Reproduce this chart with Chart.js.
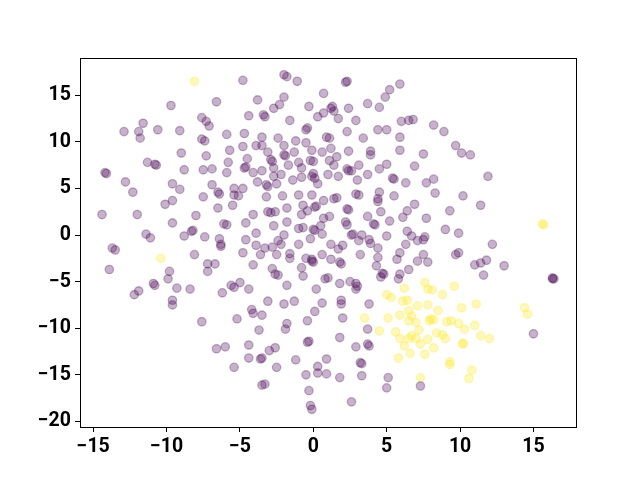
<!DOCTYPE html>
<html>
<head>
<meta charset="utf-8">
<script src="https://cdn.jsdelivr.net/npm/chart.js@4/dist/chart.umd.min.js"></script>
<style>
  html, body { margin: 0; padding: 0; background: #fff; }
  #wrap { width: 640px; height: 480px; }
</style>
</head>
<body>
<div id="wrap"><canvas id="scatter"></canvas></div>
<script>
// cluster 0 (purple)
var purplePoints = [
  [-9.7,13.9],[-11.6,12.0],[-12.9,11.1],[-11.9,11.1],[-11.8,10.4],[-10.6,11.3],[-9.1,11.2],[-9.0,8.8],
  [-11.3,7.8],[-10.8,7.6],[-10.7,7.5],[-14.1,6.6],[-14.2,6.7],[-8.8,7.0],[-12.8,5.7],[-9.6,5.5],
  [-7.6,12.6],[-7.3,12.2],[-7.6,10.3],[-7.4,10.1],[-7.3,8.5],[-7.5,7.0],
  [-2.0,17.2],[-1.8,17.0],[-4.8,16.6],[-1.1,16.5],[-6.6,14.3],[-3.8,14.5],[-2.0,14.8],[-2.3,14.0],
  [-2.7,13.6],[-0.3,13.8],[0.7,15.2],[-7.1,11.7],[-4.4,12.8],[-3.3,12.7],[-3.4,12.9],[-1.6,12.3],
  [0.3,12.7],[0.7,13.1],[-0.5,11.3],[-0.4,11.5],[-5.9,10.8],[-4.7,10.9],[-3.5,10.5],[-2.4,10.4],
  [-1.2,10.1],[-0.5,9.9],[0.9,10.5],[1.1,10.4],[-5.7,9.1],[-4.8,9.5],[-3.9,9.6],[-3.5,9.6],
  [-2.0,9.6],[-0.1,9.1],[0.6,8.9],[-3.1,8.9],[-2.0,8.6],[-1.9,8.5],[-1.3,8.9],[-4.5,8.2],
  [-2.9,8.1],[-2.8,7.9],[-5.8,7.8],[-1.0,7.8],[-0.2,8.0],[0.0,7.9],[-2.7,7.2],[-1.7,7.5],
  [-0.8,7.2],[-6.9,7.1],[-4.7,7.2],[-4.6,7.3],[-5.9,6.7],[-4.1,6.7],[-3.5,6.9],[-2.2,6.5],
  [0.0,6.6],[-2.7,6.3],[-0.8,6.2],[-1.4,5.9],[-3.8,5.7],[-0.1,6.3],[0.1,6.1],[1.0,6.5],
  [2.3,16.5],[2.2,16.4],[5.9,16.2],[5.2,15.6],[4.9,14.8],[3.7,14.1],[4.5,13.7],[1.3,13.8],
  [1.2,13.6],[1.4,13.3],[2.4,13.6],[1.7,12.5],[2.9,12.3],[6.0,12.2],[6.5,12.3],[6.8,12.4],
  [8.2,11.8],[8.9,11.1],[2.3,11.1],[4.4,11.3],[5.0,11.3],[3.4,10.4],[5.9,10.5],[1.2,9.3],
  [2.4,9.0],[3.9,9.0],[3.9,8.6],[5.9,9.1],[7.5,8.7],[1.6,8.4],[1.1,8.0],[1.4,7.5],
  [3.1,7.5],[5.0,7.6],[6.9,7.4],[2.3,7.1],[2.4,6.9],[2.6,6.9],[4.5,7.1],[1.7,6.3],
  [3.0,5.9],[3.7,6.5],[5.4,6.1],[5.5,6.0],[6.3,5.6],[7.7,5.6],[8.2,6.0],[9.7,9.6],
  [10.1,8.8],[10.7,8.6],[11.9,6.3],
  [-12.3,4.6],[-9.1,4.9],[-7.5,4.1],[-9.6,3.7],[-10.1,3.3],[-14.4,2.2],[-12.0,2.2],[-8.0,2.1],
  [-9.6,1.3],[-11.4,0.1],[-11.1,-0.3],[-8.8,-0.1],[-8.3,0.4],[-8.2,0.5],[-13.7,-1.4],[-13.5,-1.6],
  [-8.1,-2.1],[-13.9,-3.7],[-9.8,-3.9],[-9.9,-4.7],[-10.9,-5.2],[-10.8,-5.4],[-11.9,-6.0],[-12.2,-6.4],
  [-9.3,-5.7],[-8.4,-5.8],[-9.6,-7.0],[-9.6,-7.5],
  [-6.9,5.4],[-6.5,4.6],[-6.4,4.4],[-5.4,5.0],[-4.8,5.0],[-5.4,4.3],[-5.1,4.2],[-3.2,5.4],
  [-3.1,5.2],[-2.5,5.5],[0.3,5.5],[-3.2,4.1],[-2.1,4.2],[-1.0,4.3],[-0.1,4.3],[0.7,3.7],
  [-6.5,2.9],[-5.5,3.2],[-1.8,2.9],[-0.7,3.2],[0.1,3.0],[0.2,3.1],[-0.4,2.6],[-0.8,2.2],
  [-4.1,2.2],[-3.1,2.5],[-2.9,2.4],[-2.6,2.5],[0.7,1.8],[1.1,2.0],[-6.1,1.2],[-5.9,1.1],
  [-4.6,1.3],[-2.7,1.0],[-1.8,1.4],[-1.0,0.7],[-0.7,0.8],[0.1,0.5],[0.0,0.6],[0.5,1.0],
  [0.6,0.1],[-3.9,0.2],[-2.0,0.0],[-6.4,-0.4],[-6.3,-1.0],[-6.3,-1.2],[-4.6,-0.5],[-2.4,-0.6],
  [-2.2,-1.0],[-3.9,-1.1],[-3.3,-1.4],[-2.8,-1.3],[-1.0,-1.0],[-0.2,-0.4],[-7.4,-0.2],[-4.8,-1.9],
  [-3.6,-2.1],[-2.5,-2.1],[-1.6,-2.0],[-1.6,-2.5],[-0.5,-2.5],[-0.1,-2.6],[-0.1,-2.8],[0.6,-2.1],
  [-7.2,-3.1],[-7.2,-3.9],[-6.7,-3.1],[-4.1,-3.2],[-2.8,-3.6],[-2.6,-4.2],[-2.4,-4.3],[-0.8,-3.5],
  [-0.7,-4.4],[0.0,-2.9],[0.8,-4.7],[1.0,-4.6],[-5.6,-5.4],[-5.4,-5.6],[-5.0,-5.1],[-4.4,-5.8],
  [-1.8,-5.4],[-6.2,-6.2],[0.2,-5.8],[-3.1,-7.1],[-2.0,-7.4],[-1.3,-7.1],[0.6,-7.3],
  [4.5,4.6],[8.3,4.5],[1.4,3.9],[1.6,4.0],[2.9,4.4],[3.1,4.3],[4.4,3.9],[4.4,3.6],
  [5.5,4.2],[6.9,3.3],[9.3,2.6],[2.3,2.8],[2.4,2.7],[3.7,2.0],[4.6,2.5],[6.4,2.6],
  [6.1,1.9],[7.7,1.8],[2.2,1.4],[2.3,1.1],[4.1,1.2],[4.2,1.1],[5.2,1.5],[9.0,0.6],
  [6.4,0.4],[6.7,-0.1],[2.6,0.0],[2.7,0.1],[3.3,0.0],[3.1,-0.6],[3.8,-0.5],[3.9,-0.9],
  [5.0,-0.1],[7.6,-0.2],[7.5,-0.5],[7.1,-0.6],[6.3,-1.0],[1.2,-1.0],[2.0,-1.1],[1.7,-1.5],
  [4.4,-1.4],[3.2,-2.1],[4.4,-2.4],[5.9,-1.9],[7.5,-2.1],[1.2,-2.6],[1.8,-2.9],[1.9,-3.1],
  [5.7,-2.6],[7.1,-2.8],[7.8,-2.9],[4.3,-3.3],[4.7,-4.1],[4.8,-4.2],[4.6,-4.5],[5.9,-4.2],
  [6.5,-3.7],[5.8,-4.7],[1.8,-5.2],[2.5,-5.0],[2.9,-5.2],[3.0,-5.5],[2.9,-5.8],[3.8,-7.4],
  [1.9,-7.0],[1.9,-7.4],
  [10.2,4.2],[11.4,3.2],[9.9,0.2],[12.2,-1.0],[9.7,-2.1],[9.9,-1.9],[11.0,-3.2],[11.4,-3.0],
  [11.8,-2.7],[13.0,-3.3],[11.6,-4.3],[16.3,-4.7],[16.3,-4.6],[16.4,-4.7],
  [-7.6,-9.3],[-4.2,-8.0],[-4.1,-8.4],[-3.5,-8.6],[0.1,-8.2],[-5.2,-9.0],[-1.8,-9.5],[-1.9,-10.1],
  [-0.4,-9.2],[-3.7,-10.2],[-0.4,-11.5],[-0.3,-11.4],[-6.6,-12.2],[-6.0,-12.0],[-4.4,-11.8],[-4.4,-13.2],
  [-3.6,-13.3],[-3.5,-13.2],[-3.0,-12.4],[-2.6,-12.1],[-1.2,-13.4],[0.9,-13.3],[-5.4,-14.2],[-2.5,-14.2],
  [0.3,-14.1],[0.3,-14.8],[-0.5,-15.0],[0.9,-14.9],[-3.5,-16.1],[-3.3,-16.0],[-0.3,-16.7],[-0.2,-18.3],
  [-0.1,-18.7],
  [2.0,-8.9],[3.7,-10.1],[1.8,-11.0],[2.9,-12.0],[3.7,-11.7],[3.8,-11.9],[3.2,-13.7],[3.3,-13.8],
  [1.8,-15.3],[3.3,-15.1],[5.1,-15.3],[5.0,-16.4],[7.3,-16.2],[2.6,-17.9],[15.0,-10.6]
];

// cluster 1 (yellow)
var yellowPoints = [
  [-8.1,16.5],[-10.4,-2.5],[15.6,1.2],[15.7,1.1],
  [7.6,-5.1],[7.8,-5.8],[8.1,-5.9],[8.8,-6.4],[6.2,-5.7],[5.0,-6.4],[5.3,-6.7],[6.1,-7.1],
  [6.4,-7.0],[7.8,-7.5],[7.1,-7.6],[9.6,-5.5],[11.1,-7.4],[10.1,-7.8],[14.4,-7.8],[14.6,-8.5],
  [3.5,-8.9],[5.1,-8.9],[5.9,-8.6],[6.5,-8.1],[6.7,-8.7],[8.5,-8.1],[6.5,-9.2],[7.0,-9.4],
  [8.0,-9.0],[7.9,-9.2],[8.2,-9.1],[9.1,-9.3],[9.4,-9.2],[4.5,-10.3],[5.6,-10.4],[7.2,-10.2],
  [5.9,-11.1],[6.5,-11.1],[6.7,-10.8],[7.0,-11.1],[8.4,-10.5],[8.8,-10.7],[9.0,-11.1],[7.8,-11.2],
  [6.2,-11.9],[7.3,-11.7],[8.2,-12.1],[6.6,-12.7],[7.6,-12.8],[5.8,-13.2],[9.3,-13.6],[9.3,-13.9],
  [7.3,-15.3],[9.9,-9.5],[10.3,-10.1],[11.0,-9.7],[11.4,-10.8],[12.0,-11.1],[10.2,-11.7],[10.2,-11.6],
  [10.8,-14.5],[10.6,-15.4]
];

var xTicks = [-15, -10, -5, 0, 5, 10, 15];
var yTicks = [-20, -15, -10, -5, 0, 5, 10, 15];
var xRange = [-15.9, 17.9];
var yRange = [-20.6, 19.0];

function toXY(arr) {
  return arr.map(function (p) { return { x: p[0], y: p[1] }; });
}

function fmt(v) {
  return v < 0 ? '\u2212' + Math.abs(v) : String(v);
}

// full box round the plot, like the matplotlib spines
var frame = {
  id: 'frame',
  afterDraw: function (chart) {
    var a = chart.chartArea, c = chart.ctx;
    c.save();
    c.strokeStyle = '#000';
    c.lineWidth = 1;
    c.strokeRect(Math.round(a.left) + 0.5, Math.round(a.top) + 0.5,
                 Math.round(a.right - a.left), Math.round(a.bottom - a.top));
    c.restore();
  }
};

var tickFont = { family: 'Roboto', size: 19.5, weight: 'bold' };

var ctx = document.getElementById('scatter').getContext('2d');
var chart = new Chart(ctx, {
  type: 'scatter',
  data: {
    datasets: [{
      data: toXY(purplePoints),
      backgroundColor: 'rgba(68,1,84,0.3)',
      borderColor: 'rgba(68,1,84,0.3)',
      borderWidth: 1.3,
      pointRadius: 4.2,
      pointHoverRadius: 4.2
    }, {
      data: toXY(yellowPoints),
      backgroundColor: 'rgba(253,231,37,0.3)',
      borderColor: 'rgba(253,231,37,0.3)',
      borderWidth: 1.3,
      pointRadius: 4.2,
      pointHoverRadius: 4.2
    }]
  },
  options: {
    responsive: true,
    maintainAspectRatio: false,
    animation: false,
    events: [],
    layout: { padding: { left: 0, right: 64, top: 58, bottom: 0 } },
    plugins: { legend: { display: false }, tooltip: { enabled: false } },
    scales: {
      x: {
        type: 'linear',
        min: xRange[0],
        max: xRange[1],
        afterFit: function (s) { s.height = 53; },
        afterBuildTicks: function (s) { s.ticks = xTicks.map(function (v) { return { value: v }; }); },
        grid: { drawOnChartArea: false, drawTicks: true, tickLength: 5, color: '#000', tickWidth: 1 },
        border: { display: false },
        ticks: { color: '#000', font: tickFont, padding: 3, maxRotation: 0, callback: fmt }
      },
      y: {
        type: 'linear',
        min: yRange[0],
        max: yRange[1],
        afterFit: function (s) { s.width = 80; },
        afterBuildTicks: function (s) { s.ticks = yTicks.map(function (v) { return { value: v }; }); },
        grid: { drawOnChartArea: false, drawTicks: true, tickLength: 5, color: '#000', tickWidth: 1 },
        border: { display: false },
        ticks: { color: '#000', font: tickFont, padding: 4, callback: fmt }
      }
    }
  },
  plugins: [frame]
});
</script>
</body>
</html>
